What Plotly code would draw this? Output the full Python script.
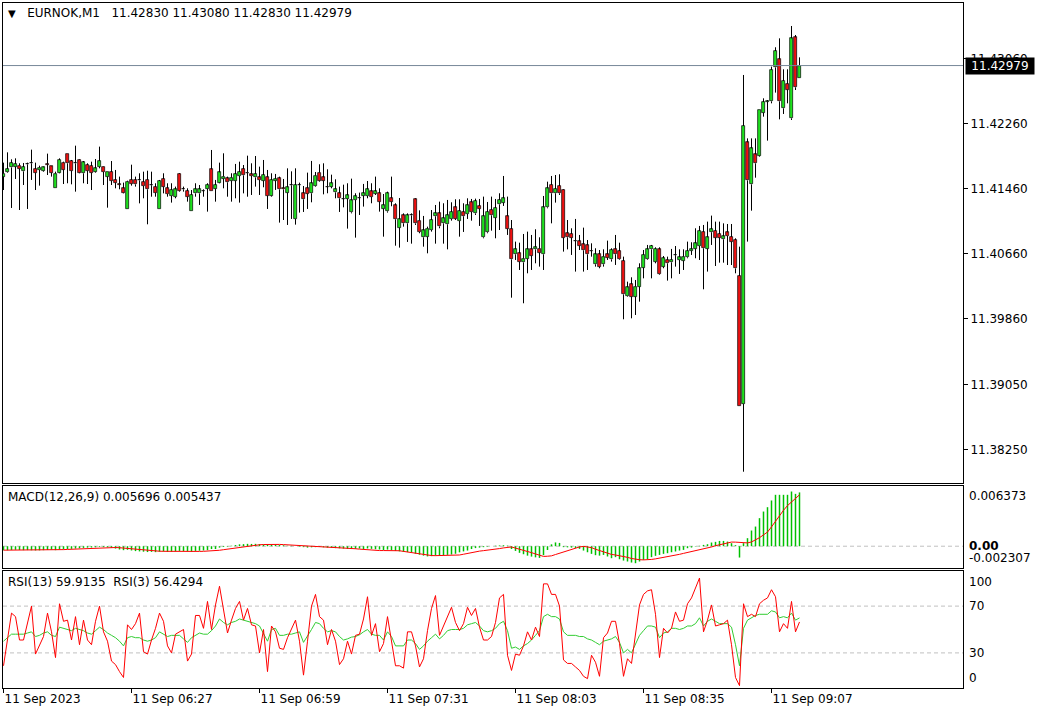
import plotly.graph_objects as go

# ---------------- data ----------------
symbol = "EURNOK,M1"
opens = [
11.41612, 11.41669, 11.41726, 11.41735, 11.41747, 11.41677, 11.41763, 11.41776, 11.41706, 11.41694,
11.41685, 11.41763, 11.41739, 11.41476, 11.41661, 11.41784, 11.41891, 11.41804, 11.41776, 11.41821,
11.41653, 11.41755, 11.41743, 11.41673, 11.41735, 11.41731, 11.41612, 11.41669, 11.41571, 11.41517,
11.41468, 11.41210, 11.41571, 11.41571, 11.41566, 11.41546, 11.41571, 11.41509, 11.41484, 11.41210,
11.41583, 11.41468, 11.41374, 11.41365, 11.41644, 11.41456, 11.41435, 11.41185, 11.41406, 11.41406,
11.41435, 11.41464, 11.41702, 11.41464, 11.41538, 11.41587, 11.41591, 11.41562, 11.41562, 11.41620,
11.41706, 11.41661, 11.41640, 11.41603, 11.41603, 11.41563, 11.41604, 11.41378, 11.41563, 11.41591,
11.41468, 11.41415, 11.41505, 11.41091, 11.41509, 11.41407, 11.41468, 11.41407, 11.41497, 11.41661,
11.41604, 11.41489, 11.41489, 11.41419, 11.41407, 11.41337, 11.41341, 11.41173, 11.41325, 11.41353,
11.41378, 11.41374, 11.41431, 11.41403, 11.41407, 11.41218, 11.41185, 11.41345, 11.41259, 11.40984,
11.41136, 11.41037, 11.41136, 11.41333, 11.41070, 11.40865, 11.40873, 11.40955, 11.41124, 11.41160,
11.41037, 11.41025, 11.41091, 11.41234, 11.41066, 11.41177, 11.41152, 11.41296, 11.41160, 11.41251,
11.40865, 11.40927, 11.41201, 11.41107, 11.41271, 11.41292, 11.41124, 11.40968, 11.40656, 11.40668,
11.40557, 11.40603, 11.40717, 11.40717, 11.40726, 11.40656, 11.41234, 11.41509, 11.41407, 11.41497,
11.41448, 11.40914, 11.40906, 11.40824, 11.40816, 11.40779, 11.40767, 11.40701, 11.40533, 11.40656,
11.40533, 11.40656, 11.40594, 11.40717, 11.40697, 11.40574, 11.40143, 11.40287, 11.40135, 11.40258,
11.40492, 11.40594, 11.40717, 11.40566, 11.40717, 11.40504, 11.40586, 11.40557, 11.40648, 11.40586,
11.40578, 11.40619, 11.40701, 11.40726, 11.40758, 11.40931, 11.40726, 11.40927, 11.40943, 11.40906,
11.40841, 11.40926, 11.40869, 11.40832, 11.40389, 11.38813, 11.42034, 11.41517, 11.41886, 11.41870,
11.42399, 11.42535, 11.42539, 11.42957, 11.43056, 11.42453, 11.42752, 11.42330, 11.43327, 11.42830]
highs = [
11.41784, 11.41911, 11.41825, 11.41837, 11.41776, 11.41780, 11.41784, 11.41944, 11.41784, 11.41747,
11.41735, 11.41895, 11.41743, 11.41673, 11.41837, 11.41796, 11.41891, 11.41817, 11.41993, 11.41829,
11.41804, 11.41776, 11.41796, 11.41829, 11.41981, 11.41735, 11.41669, 11.41804, 11.41694, 11.41612,
11.41538, 11.41562, 11.41759, 11.41612, 11.41653, 11.41673, 11.41685, 11.41673, 11.41530, 11.41571,
11.41653, 11.41530, 11.41530, 11.41489, 11.41653, 11.41489, 11.41468, 11.41447, 11.41530, 11.41509,
11.41456, 11.41530, 11.41940, 11.41571, 11.41784, 11.41899, 11.41612, 11.41653, 11.41768, 11.41796,
11.41755, 11.41870, 11.41776, 11.41866, 11.41735, 11.41817, 11.41694, 11.41653, 11.41645, 11.41612,
11.41583, 11.41714, 11.41677, 11.41714, 11.41538, 11.41497, 11.41661, 11.41805, 11.41669, 11.41764,
11.41776, 11.41702, 11.41636, 11.41579, 11.41489, 11.41513, 11.41530, 11.41587, 11.41407, 11.41415,
11.41522, 11.41558, 11.41530, 11.41612, 11.41468, 11.41398, 11.41427, 11.41612, 11.41284, 11.41349,
11.41160, 11.41160, 11.41160, 11.41345, 11.41197, 11.41128, 11.40996, 11.41201, 11.41263, 11.41304,
11.41284, 11.41325, 11.41296, 11.41333, 11.41333, 11.41284, 11.41345, 11.41337, 11.41341, 11.41337,
11.41366, 11.41300, 11.41366, 11.41337, 11.41407, 11.41620, 11.41366, 11.41078, 11.40812, 11.40799,
11.40906, 11.40935, 11.40894, 11.40964, 11.40865, 11.41374, 11.41550, 11.41620, 11.41632, 11.41641,
11.41456, 11.41078, 11.40976, 11.41091, 11.40894, 11.40984, 11.40832, 11.40791, 11.40730, 11.40709,
11.40717, 11.40824, 11.40730, 11.40894, 11.40799, 11.40627, 11.40319, 11.40373, 11.40340, 11.40545,
11.40709, 11.40771, 11.40771, 11.40742, 11.40742, 11.40635, 11.40627, 11.40722, 11.40758, 11.40717,
11.40717, 11.40812, 11.40804, 11.40976, 11.41005, 11.41017, 11.41058, 11.41132, 11.41058, 11.41058,
11.41037, 11.41029, 11.41029, 11.40853, 11.40750, 11.42863, 11.42083, 11.42083, 11.42083, 11.42432,
11.42576, 11.42555, 11.42966, 11.43204, 11.43314, 11.42933, 11.42933, 11.43466, 11.43355, 11.43080]
lows = [
11.41447, 11.41661, 11.41226, 11.41583, 11.41201, 11.41509, 11.41214, 11.41571, 11.41447, 11.41501,
11.41673, 11.41632, 11.41612, 11.41476, 11.41653, 11.41521, 11.41530, 11.41517, 11.41427, 11.41653,
11.41530, 11.41521, 11.41447, 11.41661, 11.41714, 11.41509, 11.41230, 11.41509, 11.41468, 11.41456,
11.41406, 11.41210, 11.41501, 11.41489, 11.41283, 11.41345, 11.41025, 11.41365, 11.41365, 11.41210,
11.41406, 11.41365, 11.41292, 11.41345, 11.41427, 11.41427, 11.41304, 11.41185, 11.41365, 11.41263,
11.41365, 11.41181, 11.41439, 11.41304, 11.41530, 11.41468, 11.41365, 11.41304, 11.41345, 11.41292,
11.41406, 11.41365, 11.41386, 11.41489, 11.41386, 11.41481, 11.41214, 11.41366, 11.41448, 11.41046,
11.41078, 11.41017, 11.41091, 11.41021, 11.41169, 11.41177, 11.41214, 11.41296, 11.41489, 11.41550,
11.41394, 11.41407, 11.41468, 11.41345, 11.41177, 11.41234, 11.40972, 11.41160, 11.40861, 11.41140,
11.41243, 11.41345, 11.41284, 11.41386, 11.41181, 11.40873, 11.41169, 11.41247, 11.40762, 11.40738,
11.40996, 11.40808, 11.40787, 11.41017, 11.40915, 11.40750, 11.40668, 11.40935, 11.40787, 11.40976,
11.40787, 11.40717, 11.41070, 11.41078, 11.40873, 11.40931, 11.41091, 11.41070, 11.41140, 11.41005,
11.40853, 11.40915, 11.40947, 11.40853, 11.40955, 11.41251, 11.40894, 11.40122, 11.40586, 11.40463,
11.40053, 11.40422, 11.40463, 11.40545, 11.40504, 11.40463, 11.41222, 11.41037, 11.41292, 11.41386,
11.40689, 11.40717, 11.40648, 11.40443, 11.40709, 11.40443, 11.40463, 11.40627, 11.40504, 11.40484,
11.40504, 11.40586, 11.40566, 11.40525, 11.40586, 11.39856, 11.40135, 11.39868, 11.39909, 11.40073,
11.40360, 11.40586, 11.40360, 11.40545, 11.40402, 11.40484, 11.40332, 11.40360, 11.40504, 11.40414,
11.40463, 11.40607, 11.40648, 11.40607, 11.40586, 11.40225, 11.40443, 11.40771, 11.40512, 11.40553,
11.40553, 11.40524, 11.40524, 11.40422, 11.38793, 11.37980, 11.40812, 11.41193, 11.41599, 11.41858,
11.42350, 11.42055, 11.42514, 11.42646, 11.42317, 11.42383, 11.42514, 11.42309, 11.42678, 11.42830]
closes = [
11.41649, 11.41706, 11.41780, 11.41768, 11.41710, 11.41731, 11.41765, 11.41778, 11.41661, 11.41722,
11.41726, 11.41761, 11.41661, 11.41649, 11.41817, 11.41698, 11.41776, 11.41685, 11.41774, 11.41661,
11.41788, 11.41685, 11.41661, 11.41714, 11.41804, 11.41669, 11.41669, 11.41562, 11.41538, 11.41515,
11.41415, 11.41550, 11.41525, 11.41517, 11.41568, 11.41497, 11.41456, 11.41507, 11.41415, 11.41558,
11.41489, 11.41398, 11.41447, 11.41456, 11.41439, 11.41454, 11.41365, 11.41386, 11.41456, 11.41456,
11.41437, 11.41509, 11.41439, 11.41509, 11.41665, 11.41612, 11.41542, 11.41599, 11.41644, 11.41669,
11.41628, 11.41659, 11.41620, 11.41644, 11.41571, 11.41632, 11.41378, 11.41571, 11.41583, 11.41456,
11.41456, 11.41481, 11.41505, 11.41509, 11.41507, 11.41333, 11.41403, 11.41530, 11.41624, 11.41563,
11.41563, 11.41489, 11.41530, 11.41456, 11.41345, 11.41337, 11.41382, 11.41320, 11.41370, 11.41353,
11.41407, 11.41456, 11.41361, 11.41431, 11.41304, 11.41259, 11.41407, 11.41304, 11.41087, 11.41087,
11.41037, 11.41136, 11.41134, 11.41037, 11.40931, 11.40951, 11.40972, 11.41078, 11.41160, 11.41000,
11.41099, 11.41136, 11.41177, 11.41095, 11.41189, 11.41124, 11.41259, 11.41177, 11.41312, 11.41218,
11.41124, 11.41177, 11.41136, 11.41226, 11.41325, 11.41345, 11.40972, 11.40594, 11.40717, 11.40565,
11.40603, 11.40717, 11.40639, 11.40742, 11.40676, 11.41234, 11.41468, 11.41407, 11.41460, 11.41407,
11.40861, 11.40865, 11.40861, 11.40822, 11.40763, 11.40705, 11.40656, 11.40699, 11.40656, 11.40504,
11.40627, 11.40615, 11.40709, 11.40656, 11.40594, 11.40163, 11.40250, 11.40135, 11.40258, 11.40484,
11.40648, 11.40717, 11.40758, 11.40722, 11.40410, 11.40607, 11.40545, 11.40586, 11.40646, 11.40619,
11.40627, 11.40697, 11.40717, 11.40791, 11.40943, 11.40730, 11.40865, 11.40964, 11.40861, 11.40861,
11.40877, 11.40881, 11.40812, 11.40483, 11.38793, 11.42235, 11.41566, 11.41960, 11.41776, 11.42432,
11.42531, 11.42537, 11.42925, 11.43158, 11.42539, 11.42789, 11.42682, 11.43314, 11.42711, 11.42979]

macd_main = [
-0.00044, -0.00043, -0.00040, -0.00038, -0.00040, -0.00042, -0.00041, -0.00043, -0.00045,
-0.00044, -0.00042, -0.00040, -0.00038, -0.00042, -0.00035, -0.00033, -0.00030, -0.00028,
-0.00025, -0.00022, -0.00018, -0.00015, -0.00014, -0.00012, -0.00008, -0.00010, -0.00012,
-0.00018, -0.00025, -0.00035, -0.00042, -0.00038, -0.00045, -0.00052, -0.00055, -0.00058,
-0.00062, -0.00060, -0.00063, -0.00058, -0.00056, -0.00060, -0.00058, -0.00055, -0.00050,
-0.00052, -0.00055, -0.00058, -0.00050, -0.00048, -0.00045, -0.00042, -0.00030, -0.00030,
-0.00015, -0.00008, -0.00005, 0.00005, 0.00012, 0.00020, 0.00022, 0.00025, 0.00024,
0.00025, 0.00022, 0.00018, 0.00020, 0.00015, 0.00015, 0.00012, 0.00010, 0.00005,
0.00005, 0.00000, -0.00005, -0.00010, -0.00015, -0.00012, -0.00010, -0.00008, -0.00012,
-0.00015, -0.00018, -0.00020, -0.00022, -0.00025, -0.00028,
-0.00030, -0.00028, -0.00025, -0.00030, -0.00024, -0.00028, -0.00032, -0.00035, -0.00040,
-0.00036, -0.00042, -0.00050, -0.00055,
-0.00060, -0.00062, -0.00065,
-0.00080, -0.00090, -0.00100, -0.00108, -0.00105,
-0.00100, -0.00098, -0.00095, -0.00092, -0.00088, -0.00080,
-0.00065, -0.00055, -0.00046,
-0.00030, -0.00020, -0.00015, -0.00010, -0.00005,
0.00000, 0.00005, 0.00008, 0.00010, 0.00006,
-0.00030, -0.00050, -0.00070,
-0.00085, -0.00100, -0.00110, -0.00118, -0.00124, -0.00095, -0.00040,
0.00020, 0.00040, 0.00035, -0.00010, -0.00012, -0.00015, -0.00020,
-0.00028, -0.00046, -0.00064, -0.00081, -0.00095, -0.00100,
-0.00092, -0.00109, -0.00127, -0.00116, -0.00138, -0.00152, -0.00162, -0.00173, -0.00180, -0.00162,
-0.00145, -0.00138, -0.00116, -0.00102, -0.00092, -0.00081, -0.00074, -0.00064, -0.00056, -0.00046,
-0.00039, -0.00021, -0.00014, -0.00004, 0.00004, 0.00014, 0.00021, 0.00039, 0.00046, 0.00056,
0.00056, 0.00049, 0.00032, 0.00011, -0.00120, 0.00032, 0.00085, 0.00166, 0.00208, 0.00297,
0.00367, 0.00413, 0.00484, 0.00544, 0.00544, 0.00544, 0.00544, 0.00579, 0.00554, 0.005696]

macd_signal = [
-0.00042, -0.00042, -0.00042, -0.00042, -0.00043, -0.00043, -0.00044, -0.00044, -0.00044,
-0.00043, -0.00042, -0.00041, -0.00040, -0.00039, -0.00038, -0.00036,
-0.00034, -0.00032, -0.00030, -0.00028, -0.00026,
-0.00023, -0.00021, -0.00019, -0.00017, -0.00015,
-0.00014, -0.00013, -0.00014, -0.00016,
-0.00020, -0.00025, -0.00030, -0.00035, -0.00040, -0.00044, -0.00048,
-0.00050, -0.00052, -0.00053, -0.00054, -0.00055, -0.00056, -0.00056, -0.00057, -0.00057,
-0.00056, -0.00056, -0.00055, -0.00055, -0.00054, -0.00053,
-0.00050, -0.00047, -0.00043, -0.00037, -0.00031, -0.00024, -0.00017,
-0.00010, -0.00003, 0.00003, 0.00008, 0.00012, 0.00015, 0.00018, 0.00020, 0.00020, 0.00020, 0.00019,
0.00017, 0.00015, 0.00013, 0.00010, 0.00007, 0.00003, 0.00000,
-0.00003, -0.00006, -0.00008, -0.00010, -0.00012, -0.00013, -0.00014, -0.00015, -0.00017, -0.00019,
-0.00023, -0.00027, -0.00031, -0.00035, -0.00038, -0.00041, -0.00044, -0.00046, -0.00046, -0.00046,
-0.00046, -0.00047, -0.00048,
-0.00055, -0.00062, -0.00066, -0.00072,
-0.00081, -0.00088, -0.00094, -0.00099, -0.00100, -0.00100, -0.00100, -0.00099, -0.00099, -0.00097,
-0.00093, -0.00085, -0.00075, -0.00066, -0.00059, -0.00052, -0.00047, -0.00043, -0.00037, -0.00032,
-0.00025, -0.00018, -0.00012, -0.00008,
-0.00020, -0.00030, -0.00042, -0.00055, -0.00068, -0.00082, -0.00095, -0.00108, -0.00106, -0.00102,
-0.00088, -0.00074, -0.00060, -0.00046, -0.00032, -0.00018, -0.00008, -0.00002, -0.00008,
-0.00015, -0.00032, -0.00046, -0.00062,
-0.00075, -0.00087, -0.00093, -0.00099, -0.00108, -0.00118, -0.00130, -0.00138, -0.00143, -0.00145,
-0.00144, -0.00140, -0.00134, -0.00127, -0.00120, -0.00114, -0.00104, -0.00095, -0.00086, -0.00076,
-0.00067, -0.00058, -0.00048, -0.00038, -0.00028, -0.00018, -0.00008, 0.00005, 0.00015, 0.00025,
0.00038, 0.00044, 0.00043, 0.00040, 0.00036, 0.00035, 0.00045, 0.00065, 0.00090,
0.00120, 0.00150, 0.00205, 0.00265, 0.00325, 0.00380, 0.00430, 0.00470, 0.00510, 0.005437]

rsi3 = [
19, 43, 64, 61, 41, 41, 55, 70, 29, 37,
44, 64, 48, 26, 72, 57, 58, 41, 61, 37,
58, 41, 37, 57, 70, 48, 40, 23, 20, 14,
9, 54, 50, 55, 64, 31, 29, 41, 51, 64,
57, 36, 30, 46, 48, 50, 23, 29, 62, 62,
51, 74, 50, 71, 87, 68, 47, 58, 68, 74,
58, 68, 54, 53, 30, 50, 14, 53, 48, 34,
33, 43, 50, 58, 40, 11, 40, 70, 80, 61,
58, 37, 50, 40, 20, 25, 40, 29, 45, 46,
59, 78, 45, 55, 31, 38, 61, 41, 19, 19,
17, 48, 48, 36, 18, 25, 49, 68, 79, 45,
53, 62, 69, 56, 49, 55, 69, 62, 68, 52,
41, 41, 44, 56, 77, 80, 28, 15, 29, 28,
36, 48, 41, 52, 44, 89, 89, 80, 80, 70,
24, 21, 21, 18, 15, 10, 8, 28, 22, 10,
43, 47, 57, 57, 38, 10, 25, 21, 46, 71,
80, 83, 84, 63, 26, 51, 47, 51, 65, 57,
58, 72, 77, 85, 94, 48, 58, 71, 53, 54,
55, 58, 37, 9, 2, 72, 61, 63, 61, 72,
75, 77, 84, 78, 48, 55, 51, 74, 48, 56.4294]

rsi13 = [
40, 43, 46, 46, 46, 46, 47, 48, 44, 45,
47, 48, 45, 44, 52, 51, 50, 49, 51, 50,
49, 47, 46, 49, 52, 50, 47, 45, 43, 40,
36, 43, 44, 43, 43, 41, 40, 41, 43, 48,
46, 44, 45, 45, 45, 42, 39, 43, 45, 47,
46, 46, 49, 53, 59, 56, 54, 56, 57, 59,
58, 57, 56, 55, 53, 47, 40, 50, 51, 45,
45, 46, 46, 47, 48, 39, 44, 50, 56, 55,
51, 48, 49, 48, 44, 41, 42, 43.5, 44, 45.5,
48, 50, 46, 45, 45, 41, 48, 44, 36, 36,
36, 41, 41, 38, 33, 36, 40, 43, 46, 42,
45, 49, 50, 50, 50, 51, 54, 55, 56, 53,
49, 48, 49, 51, 55, 57, 49, 34, 35, 33,
36, 38, 41, 45, 49, 61, 63, 61, 61, 59,
48, 45, 45, 45, 44, 44, 42, 41, 39, 37,
40, 41, 42, 44, 39, 30, 33, 30, 38, 45,
49, 53, 53, 52, 43, 47, 48, 51, 51, 50,
51, 53, 53, 55, 60, 53, 57, 59, 57, 55,
55, 55, 52, 37, 19, 51, 58, 60, 62, 63,
63, 63, 66, 65, 60, 61, 60, 64, 58, 59.9135]

time_labels = ["11 Sep 2023", "11 Sep 06:27", "11 Sep 06:59", "11 Sep 07:31",
               "11 Sep 08:03", "11 Sep 08:35", "11 Sep 09:07"]
time_label_bars = [0, 32, 64, 96, 128, 160, 192]
price_ticks = [11.38250, 11.39050, 11.39860, 11.40660, 11.41460, 11.42260, 11.43060]
price_tick_text = ["11.38250", "11.39050", "11.39860", "11.40660", "11.41460", "11.42260", "11.43060"]
ohlc_header = ["11.42830", "11.43080", "11.42830", "11.42979"]
last_price = 11.42979
macd_range = [-0.002307, 0.006373]
macd_header = ["0.005696", "0.005437"]
rsi_header = ["59.9135", "56.4294"]
rsi_levels = [30, 70]

# ---------------- layout geometry ----------------
W, H = 1043, 715
FONT = "DejaVu Sans"
bars = list(range(len(closes)))

def fx(px):
    return px / W

def fy(py):
    return 1 - py / H

x_dom = [fx(3), fx(963)]
main_dom = [fy(483), fy(3)]
macd_dom = [fy(568), fy(486)]
rsi_dom = [fy(688), fy(571)]

BULL = "#1fe01f"
BEAR = "#ee1111"
GREEN_LINE = "#32cd32"

# candle bodies (bars) and wicks (line segments) derived from the OHLC arrays
body_base = [min(o, c) for o, c in zip(opens, closes)]
body_len = [max(abs(c - o), 0.00001) for o, c in zip(opens, closes)]
body_col = [BULL if c >= o else BEAR for o, c in zip(opens, closes)]
wick_x, wick_y = [], []
for i, (o, h, l, c) in enumerate(zip(opens, highs, lows, closes)):
    wick_x += [i, i, None, i, i, None]
    wick_y += [h, max(o, c), None, min(o, c), l, None]

# MACD histogram as thin vertical strokes from the zero line
hist_x, hist_y = [], []
for i, v in enumerate(macd_main):
    hist_x += [i, i, None]
    hist_y += [0, v, None]

fig = go.Figure()
fig.add_trace(go.Scatter(x=wick_x, y=wick_y, mode="lines", line=dict(color="black", width=1),
                         xaxis="x", yaxis="y", hoverinfo="skip"))
fig.add_trace(go.Bar(x=bars, y=body_len, base=body_base, width=0.7,
                     marker=dict(color=body_col, line=dict(color="#000000", width=0.7)),
                     xaxis="x", yaxis="y", hoverinfo="skip"))

fig.add_trace(go.Scatter(x=hist_x, y=hist_y, mode="lines", line=dict(color="#00c000", width=1.5),
                         xaxis="x2", yaxis="y2", hoverinfo="skip"))
fig.add_trace(go.Scatter(x=bars, y=macd_signal, mode="lines", line=dict(color="#ff0000", width=1),
                         xaxis="x2", yaxis="y2", hoverinfo="skip"))
fig.add_trace(go.Scatter(x=bars, y=rsi13, mode="lines", line=dict(color=GREEN_LINE, width=1),
                         xaxis="x3", yaxis="y3", hoverinfo="skip"))
fig.add_trace(go.Scatter(x=bars, y=rsi3, mode="lines", line=dict(color="#ff0000", width=1),
                         xaxis="x3", yaxis="y3", hoverinfo="skip"))

x_range = [-0.125, 239.875]
axis_common = dict(showline=True, mirror=True, linecolor="black", linewidth=1,
                   showgrid=False, zeroline=False)
tick_font = dict(family=FONT, size=12, color="black")

fig.update_layout(
    width=W, height=H, margin=dict(l=0, r=0, t=0, b=0),
    paper_bgcolor="white", plot_bgcolor="white", showlegend=False,
    bargap=0, barmode="overlay", hovermode=False,
    font=dict(family=FONT, size=12, color="black"),
    xaxis=dict(domain=x_dom, range=x_range, anchor="y", showticklabels=False, ticks="", **axis_common),
    xaxis2=dict(domain=x_dom, range=x_range, anchor="y2", showticklabels=False, ticks="",
                matches="x", **axis_common),
    xaxis3=dict(domain=x_dom, range=x_range, anchor="y3", matches="x",
                tickmode="array", tickvals=time_label_bars, ticktext=time_labels,
                ticks="outside", ticklen=4, tickcolor="black", tickwidth=1,
                ticklabelposition="outside right", tickfont=tick_font, **axis_common),
    yaxis=dict(domain=main_dom, range=[11.37841, 11.43749], anchor="x", side="right",
               tickmode="array", tickvals=price_ticks, ticktext=price_tick_text,
               ticks="outside", ticklen=4, tickcolor="black", tickfont=tick_font, **axis_common),
    yaxis2=dict(domain=macd_dom, range=macd_range, anchor="x2", side="right",
                showticklabels=False, ticks="", **axis_common),
    yaxis3=dict(domain=rsi_dom, range=[0, 100], anchor="x3", side="right",
                showticklabels=False, ticks="", **axis_common),
)

shapes = [
    dict(type="line", xref="x domain", yref="y", x0=0, x1=1, y0=last_price, y1=last_price,
         line=dict(color="#778899", width=1)),
    dict(type="line", xref="x2 domain", yref="y2", x0=0, x1=1, y0=0, y1=0,
         line=dict(color="#c0c0c0", width=1, dash="4px,3px"), layer="below"),
]
for lvl in rsi_levels:
    shapes.append(dict(type="line", xref="x3 domain", yref="y3", x0=0, x1=1, y0=lvl, y1=lvl,
                       line=dict(color="#c0c0c0", width=1, dash="4px,3px"), layer="below"))
fig.update_layout(shapes=shapes)

NB = "\u00a0"
label_x = fx(967)
ann = []
ann.append(dict(xref="paper", yref="paper", x=fx(6), y=fy(13), xanchor="left", yanchor="middle",
                showarrow=False,
                text="<span style='font-size:10px'>▼</span>" + NB * 3 + symbol + NB * 3 + " ".join(ohlc_header),
                font=dict(family=FONT, size=12, color="black")))
ann.append(dict(xref="paper", yref="paper", x=fx(6), y=fy(497), xanchor="left", yanchor="middle",
                showarrow=False, text="MACD(12,26,9) " + " ".join(macd_header),
                font=dict(family=FONT, size=12, color="black")))
ann.append(dict(xref="paper", yref="paper", x=fx(6), y=fy(582), xanchor="left", yanchor="middle",
                showarrow=False, text="RSI(13) " + rsi_header[0] + NB * 2 + "RSI(3) " + rsi_header[1],
                font=dict(family=FONT, size=12, color="black")))
# last price box
ann.append(dict(xref="paper", yref="y", x=fx(965), y=last_price, xanchor="left", yanchor="middle",
                showarrow=False, text="%.5f" % last_price, bgcolor="black", width=66, height=14,
                borderpad=1, font=dict(family=FONT, size=12, color="white")))
# MACD scale labels
ann.append(dict(xref="paper", yref="y2 domain", x=label_x, y=1, xanchor="left", yanchor="top",
                yshift=-1, showarrow=False, text="%.6f" % macd_range[1], font=tick_font))
ann.append(dict(xref="paper", yref="y2", x=label_x, y=0, xanchor="left", yanchor="middle",
                showarrow=False, text="<b>0.00</b>", font=tick_font))
ann.append(dict(xref="paper", yref="y2 domain", x=label_x, y=0, xanchor="left", yanchor="bottom",
                yshift=1, showarrow=False, text="%.6f" % macd_range[0], font=tick_font))
# RSI scale labels
ann.append(dict(xref="paper", yref="y3 domain", x=label_x, y=1, xanchor="left", yanchor="top",
                yshift=-2, showarrow=False, text="100", font=tick_font))
for lvl in rsi_levels:
    ann.append(dict(xref="paper", yref="y3", x=label_x, y=lvl, xanchor="left", yanchor="middle",
                    showarrow=False, text=str(lvl), font=tick_font))
ann.append(dict(xref="paper", yref="y3 domain", x=label_x, y=0, xanchor="left", yanchor="bottom",
                yshift=1, showarrow=False, text="0", font=tick_font))
fig.update_layout(annotations=ann)

fig.write_html("out.html", config={"displayModeBar": False},
               post_script="document.body.style.margin='0px';document.body.style.padding='0px';")
